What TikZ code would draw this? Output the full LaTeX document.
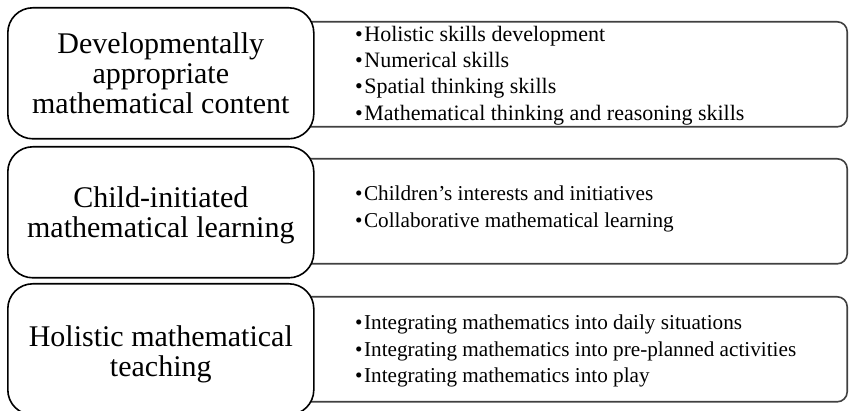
\documentclass[tikz,border=0pt]{standalone}
\usepackage{fontspec}
\setmainfont{Liberation Serif}
\begin{document}
\begin{tikzpicture}[x=1pt,y=-1pt,
  titlebox/.style={draw=black, line width=1.6pt, rounded corners=25pt, fill=white, minimum width=306pt, minimum height=131pt, anchor=north west, inner sep=0pt},
  listbox/.style={draw=black!75, line width=1.6pt, rounded corners=10pt, fill=white, minimum width=548pt, minimum height=105pt, anchor=north east, inner sep=0pt},
  titletext/.style={align=center, font=\fontsize{30}{30}\selectfont, inner sep=0pt},
  listtext/.style={align=left, anchor=west, inner sep=0pt},
  listbig/.style={listtext, font=\fontsize{22}{26.3}\selectfont},
  listsmall/.style={listtext, font=\fontsize{21.2}{26.3}\selectfont}]
\useasboundingbox (0,0) rectangle (849,411);
% row 1
\node[listbox] (l1) at (848,21) {};
\node[titlebox] (t1) at (7,7) {};
\node[titletext] (t1text) at (t1.center) {Developmentally\\appropriate\\mathematical content};
\node[listbig] (l1text) at (355,75.5) {•\hspace{1.5pt}Holistic skills development\\•\hspace{1.5pt}Numerical skills\\•\hspace{1.5pt}Spatial thinking skills\\•\hspace{1.5pt}Mathematical thinking and reasoning skills};
% row 2
\node[listbox] (l2) at (848,158) {};
\node[titlebox] (t2) at (7,146) {};
\node[titletext] (t2text) at ([yshift=-3pt]t2.center) {Child-initiated\\mathematical learning};
\node[listsmall] (l2text) at (355,209) {•\hspace{1.5pt}Children’s interests and initiatives\\•\hspace{1.5pt}Collaborative mathematical learning};
% row 3
\node[listbox] (l3) at (848,296) {};
\node[titlebox] (t3) at (7,283) {};
\node[titletext] (t3text) at ([yshift=-5pt]t3.center) {Holistic mathematical\\teaching};
\node[listsmall] (l3text) at (355,351) {•\hspace{1.5pt}Integrating mathematics into daily situations\\•\hspace{1.5pt}Integrating mathematics into pre-planned activities\\•\hspace{1.5pt}Integrating mathematics into play};
\end{tikzpicture}
\end{document}
